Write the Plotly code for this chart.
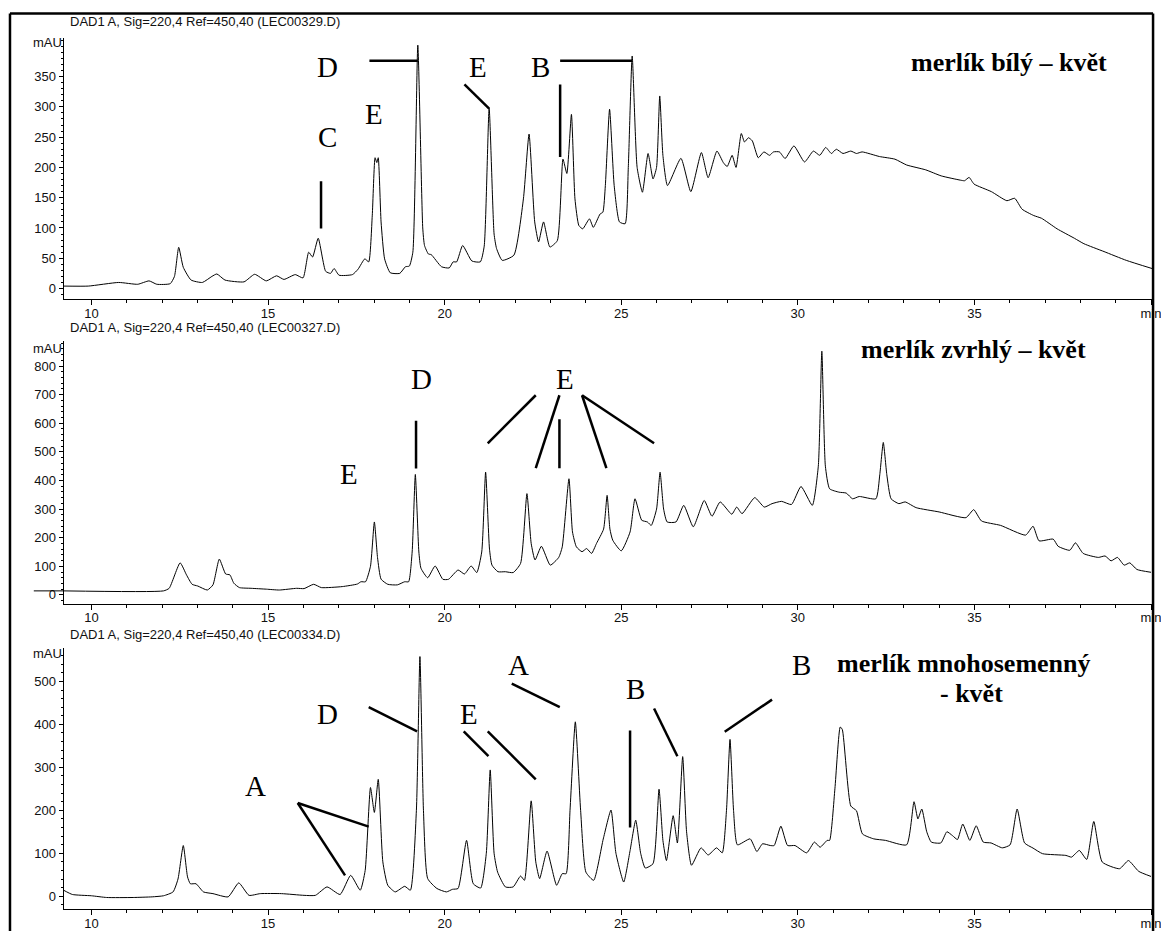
import plotly.graph_objects as go

# The page body keeps its default 8px margin, so the figure is sized to the window minus that offset
OX, OY = 8, 8
W, H = 1169 - OX, 931 - OY


def px_x(p):
    return (p - OX) / W


def px_y(p):
    return 1 - (p - OY) / H


# ---------------- data (retention time in min, signal in mAU) ----------------
top_time = [9.22, 9.91, 10.77, 11.31, 11.63, 11.85, 12.23, 12.35, 12.47, 12.6, 12.82, 13.14, 13.41, 13.55,
            13.78, 14.32, 14.62, 14.95, 15.24, 15.45, 15.77, 15.99, 16.15, 16.26, 16.42, 16.63, 16.77, 16.87,
            17.01, 17.39, 17.55, 17.74, 17.85, 17.95, 18.03, 18.08, 18.12, 18.2, 18.3, 18.46, 18.73, 18.89,
            19.0, 19.1, 19.24, 19.38, 19.43, 19.54, 19.62, 19.91, 20.13, 20.24, 20.34, 20.51, 20.77, 21.01,
            21.12, 21.26, 21.4, 21.47, 21.63, 21.96, 22.23, 22.39, 22.55, 22.66, 22.8, 22.98, 23.19, 23.35,
            23.46, 23.59, 23.69, 23.8, 23.91, 24.1, 24.21, 24.4, 24.48, 24.55, 24.67, 24.8, 24.95, 25.11,
            25.2, 25.31, 25.45, 25.6, 25.76, 25.9, 26.0, 26.09, 26.18, 26.31, 26.69, 26.97, 27.27, 27.46,
            27.71, 27.89, 28.0, 28.14, 28.25, 28.4, 28.49, 28.6, 28.71, 28.88, 29.04, 29.2, 29.31, 29.48,
            29.64, 29.89, 30.19, 30.44, 30.62, 30.79, 30.95, 31.09, 31.28, 31.5, 31.66, 31.82, 32.31, 32.75,
            33.08, 33.62, 34.06, 34.6, 34.72, 34.85, 34.99, 35.48, 35.92, 36.14, 36.35, 36.68, 36.9, 37.34,
            37.83, 38.1, 38.67, 39.3, 40.03]
top_mau = [4, 4, 10, 7, 12.6, 7, 8, 20, 68, 35, 14, 10, 20, 24,
           14, 11, 23.5, 12.6, 21, 15, 23, 17.5, 60, 52, 83, 28.5, 25, 33,
           22, 23, 32, 49, 44, 120, 216, 208, 216, 110, 49, 26, 25, 36,
           37, 60, 402, 100, 71, 57, 56, 36, 34, 44, 44, 71, 45.5, 44,
           70, 298, 90, 66, 46.5, 55, 148, 255, 110, 77, 110, 68.5, 79, 213.6,
           190, 287.5, 148, 104, 98.6, 115, 101, 123, 126, 170, 296, 170, 110, 107,
           200, 384, 200, 159, 223, 181, 200, 318, 220, 170, 215, 160, 224.5, 183,
           227, 208, 201.5, 220, 200, 256, 242, 249, 244, 216, 225.6, 220, 225.6, 225.6,
           214.7, 235.5, 209, 227, 220, 233, 223, 230, 223, 227, 223, 225.6, 218, 213.6,
           204, 196, 186, 179, 178, 183.5, 172.5, 160, 145, 149, 131, 120.5, 116, 98.6,
           83, 74, 61, 46.5, 33]

mid_time = [9.21, 12.04, 12.2, 12.51, 12.69, 12.85, 13.01, 13.28, 13.44, 13.62, 13.8, 13.92, 14.03, 14.19,
            14.52, 14.95, 15.32, 15.81, 16.02, 16.29, 16.51, 17.1, 17.53, 17.63, 17.76, 17.9, 18.01, 18.1,
            18.2, 18.39, 18.66, 18.87, 18.98, 19.08, 19.17, 19.27, 19.33, 19.52, 19.73, 19.95, 20.11, 20.38,
            20.56, 20.75, 20.91, 21.05, 21.16, 21.27, 21.34, 21.51, 21.72, 21.94, 22.15, 22.33, 22.45, 22.56,
            22.74, 22.99, 23.23, 23.33, 23.52, 23.62, 23.73, 23.89, 24.02, 24.16, 24.3, 24.5, 24.6, 24.68,
            24.76, 25.0, 25.25, 25.39, 25.58, 25.74, 25.85, 26.0, 26.1, 26.2, 26.3, 26.55, 26.77, 27.04,
            27.35, 27.57, 27.8, 28.13, 28.27, 28.42, 28.78, 29.05, 29.27, 29.54, 29.82, 30.09, 30.41, 30.58,
            30.68, 30.78, 30.9, 31.17, 31.37, 31.55, 31.74, 32.21, 32.32, 32.42, 32.52, 32.64, 32.86, 33.04,
            33.35, 34.0, 34.76, 34.98, 35.2, 35.74, 36.45, 36.66, 36.83, 37.23, 37.37, 37.7, 37.86, 38.08,
            38.51, 38.7, 38.87, 39.05, 39.24, 39.4, 39.6, 40.0]
mid_mau = [14, 14, 23, 112, 70, 37, 31, 17, 35, 125, 73, 70, 41, 25.5,
           23, 20, 17, 23, 22, 37, 25.5, 29, 38, 46, 46, 100, 255, 130,
           55, 37, 35, 46, 46, 150, 421, 150, 93, 60, 101, 54.5, 54.5, 87,
           73, 101, 78, 150, 429, 160, 104, 81, 81, 78, 110, 354, 180, 122,
           170, 104, 131, 168, 406, 220, 168, 151, 162, 145, 180, 230, 348, 230,
           191, 154, 220, 336, 261, 255, 243, 300, 429, 300, 255, 255, 313, 238,
           330, 275, 325, 282, 307, 284, 340, 307, 319, 327, 316, 379, 313, 450,
           852, 450, 371, 359, 356, 336, 344, 336, 420, 533, 420, 336, 319, 325,
           305, 290, 270, 298, 258.5, 243, 209, 240, 189, 195, 170, 156, 182, 145,
           131, 136, 119, 131, 104, 112, 89, 79]

bot_time = [9.21, 9.46, 10.0, 10.43, 11.18, 11.72, 12.04, 12.31, 12.45, 12.6, 12.72, 12.8, 12.96, 13.17,
            13.44, 13.87, 14.17, 14.46, 14.78, 15.38, 16.02, 16.34, 16.67, 17.04, 17.34, 17.61, 17.75, 17.9,
            18.01, 18.12, 18.25, 18.39, 18.6, 18.87, 19.03, 19.2, 19.3, 19.4, 19.52, 19.78, 20.05, 20.22,
            20.38, 20.62, 20.81, 21.02, 21.18, 21.29, 21.4, 21.5, 21.72, 21.94, 22.15, 22.26, 22.45, 22.58,
            22.69, 22.9, 23.17, 23.33, 23.44, 23.55, 23.7, 23.85, 24.0, 24.22, 24.49, 24.71, 24.85, 25.07,
            25.25, 25.41, 25.55, 25.68, 25.9, 26.07, 26.18, 26.28, 26.47, 26.59, 26.74, 26.85, 26.99, 27.26,
            27.46, 27.7, 27.86, 27.98, 28.08, 28.18, 28.29, 28.65, 28.84, 29.0, 29.22, 29.33, 29.52, 29.71,
            29.92, 30.25, 30.47, 30.63, 30.83, 30.9, 31.05, 31.2, 31.26, 31.5, 31.66, 31.83, 32.15, 32.48,
            33.08, 33.29, 33.4, 33.51, 33.65, 33.78, 34.05, 34.22, 34.38, 34.52, 34.67, 34.87, 35.05, 35.25,
            35.47, 35.79, 36.01, 36.21, 36.42, 36.66, 36.93, 37.59, 37.75, 37.97, 38.18, 38.38, 38.62, 39.11,
            39.36, 39.65, 40.0]
bot_mau = [14, 4, 1, -3, -3, -1.5, 1, 10, 40, 118, 45, 29, 29, 10,
           6, -1.5, 31, 2, 6, 6, 2, 2, 21.6, 4, 48.6, 14, 60, 253,
           195, 272, 80, 25.5, 10, 23, 14, 200, 558, 200, 41, 18, 10, 16,
           18, 130, 29, 19, 100, 294, 100, 56, 21.6, 21.6, 47, 37, 222, 80,
           41, 105, 25.5, 52.5, 52.5, 200, 406, 200, 56, 37, 133, 200.6, 100, 33,
           106, 177, 100, 65.6, 75.6, 249, 130, 83, 187.5, 124, 325, 150, 72, 112.6,
           96, 112.6, 101, 200, 365, 200, 119.6, 133.5, 104, 122, 118, 118, 163, 118,
           118, 101, 126, 114, 130, 130, 250, 394, 388, 210, 199, 145, 133.5, 130,
           119.6, 220, 180, 203, 150, 126, 124, 150, 141, 132, 168, 130, 164, 126,
           124, 112.6, 119.6, 203, 124, 112, 99, 95, 91, 106.5, 85.6, 174, 79.5, 64,
           83, 58, 46]

# axis ticks
x_tick_vals = [10, 15, 20, 25, 30, 35, 40]
x_tick_text = ["10", "15", "20", "25", "30", "35", "min"]
top_y_ticks = [0, 50, 100, 150, 200, 250, 300, 350]
mid_y_ticks = [0, 100, 200, 300, 400, 500, 600, 700, 800]
bot_y_ticks = [0, 100, 200, 300, 400, 500]

headers = ["DAD1 A, Sig=220,4 Ref=450,40 (LEC00329.D)",
           "DAD1 A, Sig=220,4 Ref=450,40 (LEC00327.D)",
           "DAD1 A, Sig=220,4 Ref=450,40 (LEC00334.D)"]
sample_names = ["merlík bílý – květ", "merlík zvrhlý – květ", "merlík mnohosemenný", "- květ"]

# peak letter labels: (text, time, mAU)
top_letters = [("D", 16.69, 366), ("E", 18.0, 288), ("C", 16.67, 250), ("E", 20.94, 366), ("B", 22.71, 366)]
mid_letters = [("E", 17.29, 421), ("D", 19.35, 755), ("E", 23.41, 755)]
bot_letters = [("A", 14.65, 257), ("D", 16.67, 425), ("E", 20.7, 425), ("A", 22.1, 538),
               ("B", 25.39, 482), ("B", 30.09, 538)]

# callout lines: (t0, y0, t1, y1)
top_callouts = [(17.87, 376, 19.24, 376), (16.5, 177, 16.5, 99), (20.56, 337, 21.26, 297),
                (23.27, 337, 23.27, 217), (23.27, 376, 25.31, 376)]
mid_callouts = [(19.19, 609, 19.19, 442), (22.58, 698, 21.22, 530), (23.25, 698, 22.58, 443),
                (23.25, 614, 23.25, 443), (23.89, 698, 24.58, 443), (23.89, 698, 25.93, 530)]
bot_callouts = [(15.84, 217, 17.85, 162), (15.84, 217, 17.18, 48.6), (17.85, 440, 19.22, 384),
                (20.54, 384, 21.24, 326), (21.22, 384, 22.58, 272), (21.9, 495, 23.26, 440),
                (25.25, 386, 25.25, 160), (25.93, 437, 26.59, 326), (29.27, 457.6, 27.93, 383)]

# ---------------- layout geometry (window pixels) ----------------
X_LEFT, X_RIGHT = 64, 1161
panels = [  # (axis top px, axis bottom px, y range, major ticks, minor step)
    (38, 301, [-18, 414], top_y_ticks, 10),
    (343, 607, [-31, 887], mid_y_ticks, 20),
    (651, 914, [-30, 579], bot_y_ticks, 20),
]

fig = go.Figure()
series = [(top_time, top_mau), (mid_time, mid_mau), (bot_time, bot_mau)]
for i, (tx, ty) in enumerate(series):
    sfx = "" if i == 0 else str(i + 1)
    fig.add_trace(go.Scatter(x=tx, y=ty, mode="lines",
                             line=dict(color="black", width=1, shape="spline", smoothing=0.5),
                             xaxis="x" + sfx, yaxis="y" + sfx, hoverinfo="skip", showlegend=False))

tickfont = dict(family="Liberation Sans, Arial, sans-serif", size=13, color="#111")
layout = dict(width=W, height=H, margin=dict(l=0, r=0, t=0, b=0),
              paper_bgcolor="white", plot_bgcolor="white", showlegend=False)

for i, (ptop, pbot, yr, yt, ymin) in enumerate(panels):
    sfx = "" if i == 0 else str(i + 1)
    layout["xaxis" + sfx] = dict(
        domain=[px_x(X_LEFT), px_x(X_RIGHT)], range=[9.21, 40.03], anchor="y" + sfx,
        showline=True, linecolor="black", linewidth=1, ticks="outside", ticklen=5, tickwidth=1,
        tickcolor="black", tickmode="array", tickvals=x_tick_vals, ticktext=x_tick_text,
        tickfont=tickfont, ticklabeloverflow="allow", ticklabelstandoff=-3,
        showgrid=False, zeroline=False, fixedrange=True,
        minor=dict(tickmode="array", tickvals=list(range(10, 41)), ticks="outside", ticklen=3,
                   tickcolor="black", showgrid=False))
    minor_vals = [v for v in range(-40, 1000, ymin) if yr[0] <= v <= yr[1]]
    layout["yaxis" + sfx] = dict(
        domain=[px_y(pbot), px_y(ptop)], range=yr, anchor="x" + sfx,
        showline=True, linecolor="black", linewidth=1, ticks="outside", ticklen=4, tickwidth=1,
        tickcolor="black", tickmode="array", tickvals=yt, tickfont=tickfont,
        ticklabeloverflow="allow", showgrid=False, zeroline=False, fixedrange=True,
        minor=dict(tickmode="array", tickvals=minor_vals, ticks="outside", ticklen=2,
                   tickcolor="black", showgrid=False))

annotations = []
shapes = []
header_y = [22, 329, 638]
mau_y = [43, 350, 657]
small_font = dict(family="Liberation Sans, Arial, sans-serif", size=13, color="#111")
for i in range(3):
    annotations.append(dict(xref="paper", yref="paper", x=px_x(68), y=px_y(header_y[i]),
                            xanchor="left", yanchor="middle", text=headers[i], showarrow=False,
                            font=small_font))
    annotations.append(dict(xref="paper", yref="paper", x=px_x(64), y=px_y(mau_y[i]),
                            xanchor="right", yanchor="middle", text="mAU", showarrow=False,
                            font=small_font))

letter_font = dict(family="Liberation Serif, Times New Roman, serif", size=29, color="black")
for i, letters in enumerate([top_letters, mid_letters, bot_letters]):
    sfx = "" if i == 0 else str(i + 1)
    for txt, t, v in letters:
        annotations.append(dict(xref="x" + sfx, yref="y" + sfx, x=t, y=v, text=txt, showarrow=False,
                                xanchor="center", yanchor="middle", font=letter_font))

for i, callouts in enumerate([top_callouts, mid_callouts, bot_callouts]):
    sfx = "" if i == 0 else str(i + 1)
    for t0, v0, t1, v1 in callouts:
        shapes.append(dict(type="line", xref="x" + sfx, yref="y" + sfx, x0=t0, y0=v0, x1=t1, y1=v1,
                           line=dict(color="black", width=2.5)))

name_font = dict(family="Liberation Serif, Times New Roman, serif", size=26, color="black")
name_pos = [("x", "y", 35.97, 373), ("x2", "y2", 34.98, 859), ("x3", "y3", 34.71, 542), ("x3", "y3", 34.92, 471)]
for txt, (xr, yr_, t, v) in zip(sample_names, name_pos):
    annotations.append(dict(xref=xr, yref=yr_, x=t, y=v, text="<b>" + txt + "</b>", showarrow=False,
                            xanchor="center", yanchor="middle", font=name_font))

# zero-level marker left of the middle panel axis
shapes.append(dict(type="line", xref="paper", yref="y2", x0=px_x(34), x1=px_x(X_LEFT), y0=14, y1=14,
                   line=dict(color="black", width=1)))

# outer frame (left, top, right edges)
frame = [(10, 13.5, 1162, 13.5), (10, 13.5, 10, 940), (1162, 13.5, 1162, 940)]
for x0, y0, x1, y1 in frame:
    shapes.append(dict(type="line", xref="paper", yref="paper", x0=px_x(x0), y0=px_y(y0),
                       x1=px_x(x1), y1=px_y(y1), line=dict(color="black", width=2.5)))

layout["annotations"] = annotations
layout["shapes"] = shapes
fig.update_layout(**layout)
fig.write_html("out.html")
